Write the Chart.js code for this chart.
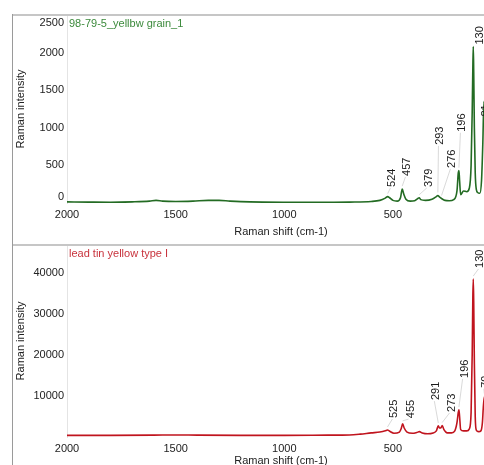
<!DOCTYPE html>
<html>
<head>
<meta charset="utf-8">
<script src="https://cdn.jsdelivr.net/npm/chart.js@4/dist/chart.umd.min.js"></script>
<style>
  html, body { margin:0; padding:0; width:484px; height:465px; overflow:hidden; background:#fff; }
  #wrap { position:relative; width:484px; height:465px; overflow:hidden; }
  .frame { position:absolute; background:#c6c6c6; }
</style>
</head>
<body>
<div id="wrap">
  <div style="position:absolute;left:0;top:0;width:500px;height:240px;"><canvas id="c1" width="500" height="240"></canvas></div>
  <div style="position:absolute;left:0;top:240px;width:500px;height:240px;"><canvas id="c2" width="500" height="240"></canvas></div>
  <div class="frame" style="left:12px;top:14px;width:480px;height:2px;"></div>
  <div class="frame" style="left:12px;top:244px;width:480px;height:2px;"></div>
  <div class="frame" style="left:12px;top:14px;width:1px;height:460px;background:#9a9a9a;"></div>
</div>
<script>
// ---------- data ----------
const xTicks = [2000, 1500, 1000, 500];

const topTitle = "98-79-5_yellbw grain_1";
const topTicksY = [0, 500, 1000, 1500, 2000, 2500];
const topShift = [2000,1900,1800,1700,1620,1590,1560,1500,1420,1350,1300,1250,1200,1100,1000,900,800,700,600,560,535,524,515,500,480,465,457,450,440,420,400,385,379,372,350,320,300,293,286,276,260,240,220,205,199,196,193,188,175,160,148,140,135,132,130,128,125,121,116,110,100,92,86,81,76,70,60,50,40];
const topInt   = [15,12,10,15,25,35,25,20,25,35,35,25,18,12,10,10,10,12,20,35,65,85,70,35,25,70,185,120,50,25,30,60,70,45,35,50,85,100,80,60,35,30,45,160,400,430,300,110,160,150,200,500,1200,1800,2080,1750,1000,400,180,140,130,300,800,1350,1000,500,300,200,150];

const topPeakText = ['524','457','379','293','276','196','130','81'];
const topPeakX    = [524, 457, 379, 293, 276, 196, 130, 81];
const topLabelX   = [502, 433, 335, 281, 226, 180, 97, 70];
const topLabelY   = [213, 360, 213, 773, 467, 947, 2107, 1150];

const botTitle = "lead tin yellow type I";
const botTicksY = [0, 10000, 20000, 30000, 40000];
const botShift = [2000,1800,1600,1500,1400,1200,1000,800,700,650,600,560,535,525,515,495,470,462,455,448,435,410,390,378,365,340,315,300,291,285,278,273,265,250,230,215,205,199,196,193,188,175,160,148,140,135,132,130,128,125,121,116,105,95,88,84,79,75,70,60,50,40];
const botInt   = [400,400,450,500,450,400,400,450,500,700,1000,1200,1500,1700,1400,900,1200,2000,3200,2200,1200,900,1100,1300,1000,800,1000,1500,2700,2200,2300,2800,1800,1000,1000,1500,3500,6000,6600,5000,1800,1500,1500,2000,6000,20000,34000,38500,33000,18000,5000,1700,1300,1500,3500,7000,9800,8000,4000,2000,1500,1200];

const botPeakText = ['525','455','291','273','196','130','79'];
const botPeakX    = [525, 455, 291, 273, 196, 130, 79];
const botLabelX   = [493, 419, 300, 230, 170, 97, 72];
const botLabelY   = [4630, 4600, 9000, 6100, 14400, 41200, 12000];

// ---------- helpers ----------
const FONT = "'Liberation Sans', Arial, sans-serif";
Chart.defaults.font.family = FONT;
Chart.defaults.font.size = 11;
Chart.defaults.color = '#222';

function pairs(xs, ys) { return xs.map((x, i) => ({x: x, y: ys[i]})); }

function peakPlugin(id, title, titleColor, texts, px, lx, ly, yTicks, hideZero) {
  return {
    id: id,
    afterDatasetsDraw(chart) {
      const ctx = chart.ctx, xs = chart.scales.x, ys = chart.scales.y;
      const data = chart.data.datasets[0].data;
      const area = chart.chartArea;
      ctx.save();
      ctx.font = "11px " + FONT;
      // y tick labels (end labels kept inside the plot height, as in the original software)
      ctx.fillStyle = '#222';
      ctx.textAlign = 'right';
      ctx.textBaseline = 'middle';
      yTicks.forEach(v => {
        if (hideZero && v === 0) return;
        let y = ys.getPixelForValue(v);
        y = Math.max(area.top + 8, Math.min(area.bottom - 6, y));
        ctx.fillText(String(v), area.left - 3, y);
      });
      // panel title
      ctx.fillStyle = titleColor;
      ctx.textAlign = 'left';
      ctx.fillText(title, area.left + 2, area.top + 9);
      // peak labels with leader lines
      for (let i = 0; i < texts.length; i++) {
        const pt = data.find(d => d.x === px[i]);
        const peakPx = xs.getPixelForValue(px[i]);
        const peakPy = ys.getPixelForValue(pt ? pt.y : 0);
        const tx = xs.getPixelForValue(lx[i]);
        const ty = ys.getPixelForValue(ly[i]);
        if (peakPy - ty > 5) {
          ctx.strokeStyle = '#cfcfcf';
          ctx.lineWidth = 0.8;
          ctx.beginPath();
          ctx.moveTo(tx - 2, ty + 1);
          ctx.lineTo(peakPx, peakPy - 3);
          ctx.stroke();
        }
        ctx.save();
        ctx.translate(tx, ty);
        ctx.rotate(-Math.PI / 2);
        ctx.fillStyle = '#1a1a1a';
        ctx.textAlign = 'left';
        ctx.textBaseline = 'middle';
        ctx.fillText(texts[i], 0, 0);
        ctx.restore();
      }
      ctx.restore();
    }
  };
}

function makeChart(canvasId, xs, ys, color, yMax, yTicks, padTop, axisH, titlePadBottom, plugin) {
  return new Chart(document.getElementById(canvasId), {
    type: 'line',
    data: { datasets: [{ data: pairs(xs, ys), borderColor: color, borderWidth: 1.6, pointRadius: 0, cubicInterpolationMode: 'monotone', fill: false }] },
    options: {
      responsive: false, animation: false,
      layout: { padding: { left: 0, right: 5, top: padTop, bottom: 0 } },
      plugins: { legend: { display: false }, tooltip: { enabled: false } },
      scales: {
        x: {
          type: 'linear', reverse: true, min: 30, max: 2000,
          afterBuildTicks: s => { s.ticks = xTicks.map(v => ({value: v})); },
          afterFit: s => { s.height = axisH; },
          grid: { display: false, drawTicks: false },
          border: { display: false },
          ticks: { padding: 5, maxRotation: 0, color: '#222', callback: v => String(v) },
          title: { display: true, text: 'Raman shift (cm-1)', color: '#222', padding: { top: 0, bottom: titlePadBottom } }
        },
        y: {
          type: 'linear', min: 0, max: yMax,
          afterBuildTicks: s => { s.ticks = yTicks.map(v => ({value: v})); },
          afterFit: s => { s.width = 67; },
          grid: { display: false, drawTicks: false },
          border: { display: true, color: '#e4e4e4', width: 1 },
          ticks: { display: false },
          title: { display: true, text: 'Raman intensity', color: '#222', padding: { top: 14, bottom: 0 } }
        }
      }
    },
    plugins: [plugin]
  });
}

makeChart('c1', topShift, topInt, '#236b23', 2500, topTicksY, 15, 37, 1,
  peakPlugin('p1', topTitle, '#3c8a3c', topPeakText, topPeakX, topLabelX, topLabelY, topTicksY, false));
makeChart('c2', botShift, botInt, '#c0141e', 46800, botTicksY, 5, 43, 12,
  peakPlugin('p2', botTitle, '#c8323c', botPeakText, botPeakX, botLabelX, botLabelY, botTicksY, true));
</script>
</body>
</html>
